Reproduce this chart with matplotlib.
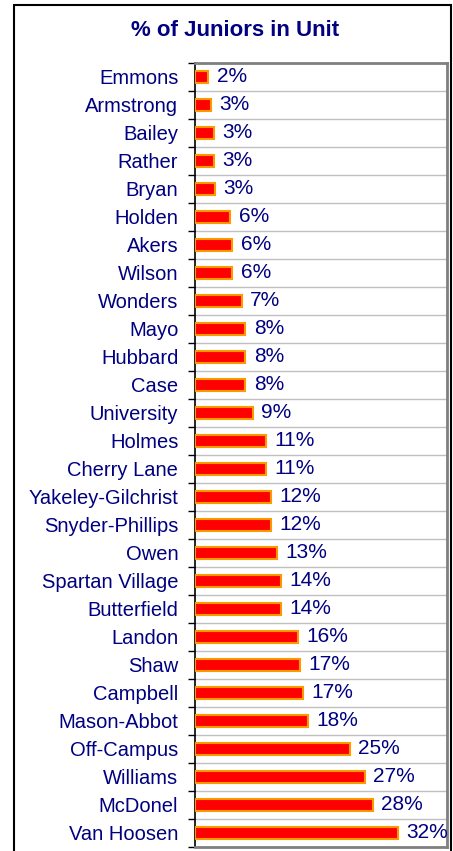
import matplotlib.pyplot as plt
from matplotlib.patches import Rectangle
import numpy as np

plt.rcParams['font.family'] = ['Liberation Sans', 'DejaVu Sans']

units = ['Emmons', 'Armstrong', 'Bailey', 'Rather', 'Bryan', 'Holden', 'Akers',
         'Wilson', 'Wonders', 'Mayo', 'Hubbard', 'Case', 'University', 'Holmes',
         'Cherry Lane', 'Yakeley-Gilchrist', 'Snyder-Phillips', 'Owen',
         'Spartan Village', 'Butterfield', 'Landon', 'Shaw', 'Campbell',
         'Mason-Abbot', 'Off-Campus', 'Williams', 'McDonel', 'Van Hoosen']
pct = [0.021, 0.026, 0.030, 0.030, 0.031, 0.056, 0.059, 0.059, 0.074, 0.080,
       0.080, 0.080, 0.092, 0.112, 0.112, 0.121, 0.121, 0.130, 0.136, 0.136,
       0.164, 0.166, 0.171, 0.180, 0.246, 0.270, 0.282, 0.322]

navy = '#000080'
W, H = 453, 851
fig = plt.figure(figsize=(W / 100, H / 100), dpi=100)

# outer chart border
fig.add_artist(Rectangle((14 / W, -0.01), (451 - 14) / W, (H - 5) / H + 0.01,
                         transform=fig.transFigure, fill=False,
                         edgecolor='black', linewidth=1.5))

fig.text(235 / W, 1 - 30 / H, '% of Juniors in Unit', ha='center', va='center',
         fontsize=16, fontweight='bold', color=navy)

ax = fig.add_axes([195 / W, 1 - 847 / H, (447 - 195) / W, (847 - 63) / H])
y = np.arange(len(units))
bars = ax.barh(y, pct, height=0.45, color='#FF0000', edgecolor='#FF9900',
               linewidth=1.5, zorder=3)
ax.bar_label(bars, labels=[f'{v:.0%}' for v in pct], padding=6,
             fontsize=15, color=navy)

ax.set_xlim(0, 0.40)
ax.set_ylim(len(units) - 0.5, -0.5)
ax.set_xticks([])
ax.set_yticks(y)
ax.set_yticklabels(units, fontsize=14.5, color=navy)
ax.tick_params(axis='y', which='major', length=0, pad=12)
ax.set_yticks(np.arange(len(units) + 1) - 0.5, minor=True)
ax.tick_params(axis='y', which='minor', length=5, width=1, color='black')
ax.grid(axis='y', which='minor', color='#C0C0C0', linewidth=1, zorder=0)

ax.spines['left'].set_color('black')
ax.spines['left'].set_linewidth(1.2)
for s in ['top', 'right', 'bottom']:
    ax.spines[s].set_color('#808080')
    ax.spines[s].set_linewidth(2)

fig.savefig('out.png', dpi=100)
